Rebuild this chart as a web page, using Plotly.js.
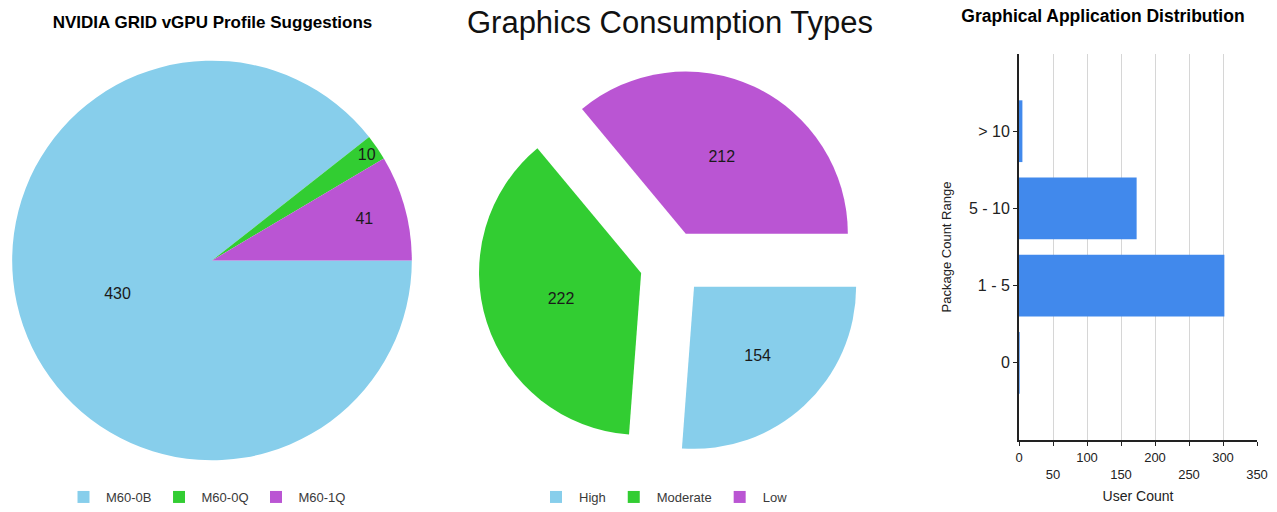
<!DOCTYPE html>
<html>
<head>
<meta charset="utf-8">
<script src="https://cdn.plot.ly/plotly-3.0.1.min.js"></script>
<style>
  html, body { margin: 0; padding: 0; background: #fff; }
  #wrap { position: relative; width: 1277px; height: 512px; overflow: hidden; }
  .panel { position: absolute; top: 0; height: 512px; }
  #p1 { left: 0; width: 425px; }
  #p2 { left: 425px; width: 490px; }
  #p3 { left: 915px; width: 362px; }
</style>
</head>
<body>
<div id="wrap">
  <div id="p1" class="panel"></div>
  <div id="p2" class="panel"></div>
  <div id="p3" class="panel"></div>
</div>
<script>
// ---- data ----
const profileLabels = ['M60-0B', 'M60-0Q', 'M60-1Q'];
const profileValues = [430, 10, 41];

const consumptionLabels = ['High', 'Moderate', 'Low'];
const consumptionValues = [154, 222, 212];

const rangeCategories = ['0', '1 - 5', '5 - 10', '> 10'];
const userCounts = [1, 302, 173, 5];

const xTickValues = [0, 50, 100, 150, 200, 250, 300, 350];
const xTickLabels = ['0', '<br>50', '100', '<br>150', '200', '<br>250', '300', '<br>350'];

const pieColors = ['skyblue', 'limegreen', 'mediumorchid'];
const FONT = 'Arial, "Liberation Sans", sans-serif';
const cfg = { staticPlot: true, displayModeBar: false };
const H = 512;

// ---- pie 1 ----
Plotly.newPlot('p1', [{
  type: 'pie',
  labels: profileLabels,
  values: profileValues,
  sort: false,
  direction: 'clockwise',
  rotation: 90,
  domain: { x: [11 / 425, 413 / 425], y: [1 - 463 / H, 1 - 61 / H] },
  marker: { colors: pieColors },
  textinfo: 'value',
  textposition: 'inside',
  insidetextorientation: 'horizontal',
  textfont: { size: 16, color: '#1a1a1a', family: FONT },
  hoverinfo: 'label+value'
}], {
  width: 425, height: H,
  margin: { l: 0, r: 0, t: 0, b: 0 },
  font: { family: FONT },
  paper_bgcolor: '#fff',
  uniformtext: { mode: 'show', minsize: 16 },
  title: {
    text: '<b>NVIDIA GRID vGPU Profile Suggestions</b>',
    font: { size: 17, color: '#000', family: FONT },
    x: 0.5, xanchor: 'center', y: 1 - 22 / H, yanchor: 'middle'
  },
  showlegend: true,
  legend: {
    orientation: 'h', x: 206 / 425, xanchor: 'center', y: 1 - 500 / H, yanchor: 'middle',
    itemwidth: 35,
    font: { size: 13, color: '#3a3a3a', family: FONT }
  }
}, cfg);

// ---- pie 2 ----
Plotly.newPlot('p2', [{
  type: 'pie',
  labels: consumptionLabels,
  values: consumptionValues,
  sort: false,
  direction: 'clockwise',
  rotation: 90,
  pull: 0.2,
  domain: { x: [(477.5 - 425) / 490, (866.5 - 425) / 490], y: [1 - 457.5 / H, 1 - 68.5 / H] },
  marker: { colors: pieColors },
  textinfo: 'value',
  textposition: 'inside',
  insidetextorientation: 'horizontal',
  textfont: { size: 16, color: '#1a1a1a', family: FONT },
  hoverinfo: 'label+value'
}], {
  width: 490, height: H,
  margin: { l: 0, r: 0, t: 0, b: 0 },
  font: { family: FONT },
  paper_bgcolor: '#fff',
  uniformtext: { mode: 'show', minsize: 16 },
  title: {
    text: 'Graphics Consumption Types',
    font: { size: 31, color: '#111', family: FONT },
    x: (670 - 425) / 490, xanchor: 'center', y: 1 - 22 / H, yanchor: 'middle'
  },
  showlegend: true,
  legend: {
    orientation: 'h', x: (663 - 425) / 490, xanchor: 'center', y: 1 - 497 / H, yanchor: 'middle',
    itemwidth: 36,
    font: { size: 13, color: '#3a3a3a', family: FONT }
  }
}, cfg);

// ---- bar chart ----
Plotly.newPlot('p3', [{
  type: 'bar',
  orientation: 'h',
  y: rangeCategories,
  x: userCounts,
  marker: { color: '#4189ec' },
  hoverinfo: 'x+y'
}], {
  width: 362, height: H,
  margin: { l: 104, r: 20, t: 54, b: 72 },
  font: { family: FONT, color: '#222' },
  paper_bgcolor: '#fff',
  plot_bgcolor: '#fff',
  bargap: 0.2,
  showlegend: false,
  title: {
    text: '<b>Graphical Application Distribution</b>',
    font: { size: 17.5, color: '#000', family: FONT },
    xref: 'container', x: (1103 - 915) / 362, xanchor: 'center',
    y: 1 - 16 / H, yanchor: 'middle'
  },
  xaxis: {
    range: [0, 350],
    tickmode: 'array',
    tickvals: xTickValues,
    ticktext: xTickLabels,
    showgrid: true, gridcolor: '#d6d6d6', gridwidth: 1,
    zeroline: false,
    showline: true, linecolor: '#222', linewidth: 2,
    ticks: 'outside', ticklen: 4, tickcolor: '#222',
    tickfont: { size: 13, color: '#222' },
    title: { text: 'User Count', font: { size: 14, color: '#222' }, standoff: 11 },
    fixedrange: true
  },
  yaxis: {
    type: 'category',
    categoryorder: 'array',
    categoryarray: rangeCategories,
    range: [-1, 4],
    showgrid: false,
    zeroline: false,
    showline: true, linecolor: '#222', linewidth: 2,
    ticks: 'outside', ticklen: 4, tickcolor: '#222',
    tickfont: { size: 16, color: '#222' },
    title: { text: 'Package Count Range', font: { size: 13, color: '#222' }, standoff: 14 },
    fixedrange: true
  }
}, cfg);
</script>
</body>
</html>
